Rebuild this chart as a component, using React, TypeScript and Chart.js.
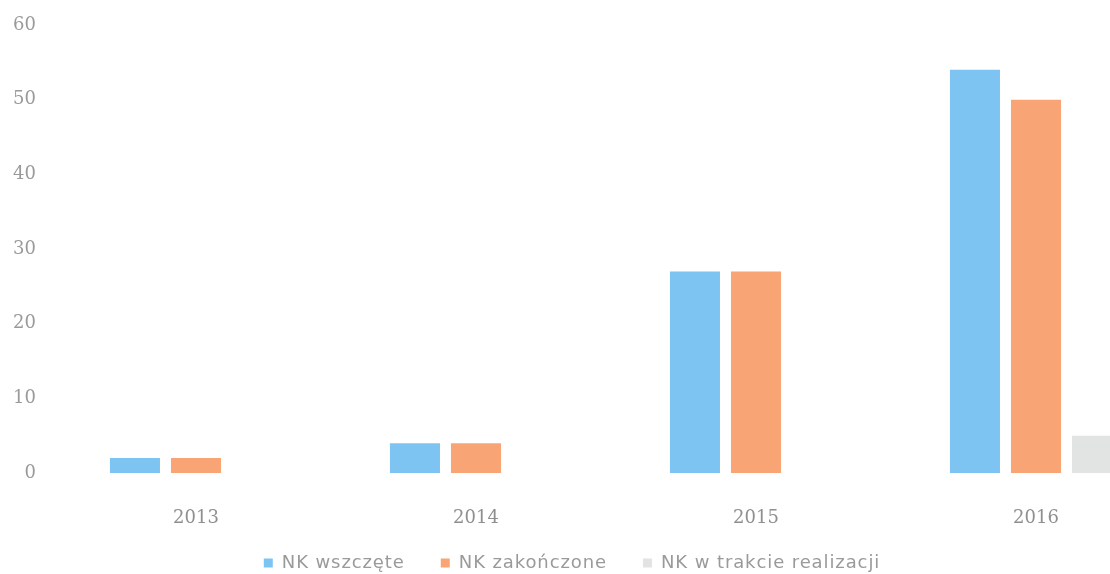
import React, { useEffect, useRef } from "react";
import { Chart, registerables } from "chart.js";

Chart.register(...registerables);

const categories = ["2013", "2014", "2015", "2016"];
const started = [2, 4, 27, 54];
const finished = [2, 4, 27, 50];
const inProgress = [0, 0, 0, 5];
const seriesNames = ["NK wszczęte", "NK zakończone", "NK w trakcie realizacji"];
const yTicks = [0, 10, 20, 30, 40, 50, 60];

const LEGEND_HEIGHT = 55;
const LEGEND_SHIFT = 11;

const legendTweak = {
  id: "legendTweak",
  beforeLayout(chart: any) {
    const lg = chart.legend;
    if (!lg || lg.__wrapped) return;
    lg.__wrapped = true;
    const origFit = lg.fit;
    const origDraw = lg.draw;
    lg.fit = function (this: any, ...args: any[]) {
      const ctx = this.ctx;
      const prev = ctx.letterSpacing;
      ctx.letterSpacing = "0.9px";
      try {
        const r = origFit.apply(this, args);
        this.height = LEGEND_HEIGHT;
        return r;
      } finally {
        ctx.letterSpacing = prev;
      }
    };
    lg.draw = function (this: any, ...args: any[]) {
      const ctx = this.ctx;
      const prev = ctx.letterSpacing;
      const top = this.top;
      ctx.letterSpacing = "0.9px";
      this.top = top - LEGEND_SHIFT;
      try {
        return origDraw.apply(this, args);
      } finally {
        this.top = top;
        ctx.letterSpacing = prev;
      }
    };
  },
};

export default function App() {
  const ref = useRef<HTMLCanvasElement | null>(null);

  useEffect(() => {
    document.body.style.margin = "0";
    if (!ref.current) return;
    const chart = new Chart(ref.current, {
      type: "bar",
      data: {
        labels: categories,
        datasets: [
          { label: seriesNames[0], data: started, backgroundColor: "#7DC4F3" },
          { label: seriesNames[1], data: finished, backgroundColor: "#F9A475" },
          { label: seriesNames[2], data: inProgress, backgroundColor: "#E2E3E3" },
        ],
      },
      plugins: [legendTweak],
      options: {
        animation: false,
        responsive: false,
        devicePixelRatio: 1,
        layout: { padding: { top: 25, left: 0, right: 0, bottom: 0 } },
        datasets: {
          bar: { categoryPercentage: 0.654, barPercentage: 0.82, borderWidth: 0 },
        },
        plugins: {
          tooltip: { enabled: false },
          legend: {
            position: "bottom",
            labels: {
              boxWidth: 9,
              boxHeight: 9,
              padding: 36,
              color: "#9a9a9a",
              font: { family: "DejaVu Sans", size: 18 },
            },
          },
        },
        scales: {
          x: {
            grid: { display: false, drawTicks: false },
            border: { display: false },
            ticks: {
              color: "#8f8f8f",
              padding: 35,
              font: { family: "DejaVu Serif", size: 18 },
            },
            afterFit: (s: any) => {
              s.height = 56;
            },
          },
          y: {
            min: yTicks[0],
            max: yTicks[yTicks.length - 1],
            grid: { display: false, drawTicks: false },
            border: { display: false },
            afterBuildTicks: (s: any) => {
              s.ticks = yTicks.map((v) => ({ value: v }));
            },
            ticks: {
              color: "#9a9a9a",
              padding: 20,
              font: { family: "DejaVu Serif", size: 18 },
            },
            afterFit: (s: any) => {
              s.width = 88;
              s.paddingTop = 0;
              s.paddingBottom = 0;
            },
          },
        },
      },
    });
    return () => chart.destroy();
  }, []);

  return (
    <div
      style={{
        position: "fixed",
        left: 0,
        top: 0,
        width: 1110,
        height: 574,
        overflow: "hidden",
        background: "#fff",
      }}
    >
      <canvas
        ref={ref}
        width={1208}
        height={584}
        style={{ position: "absolute", left: -32, top: 0, width: 1208, height: 584 }}
      />
    </div>
  );
}
